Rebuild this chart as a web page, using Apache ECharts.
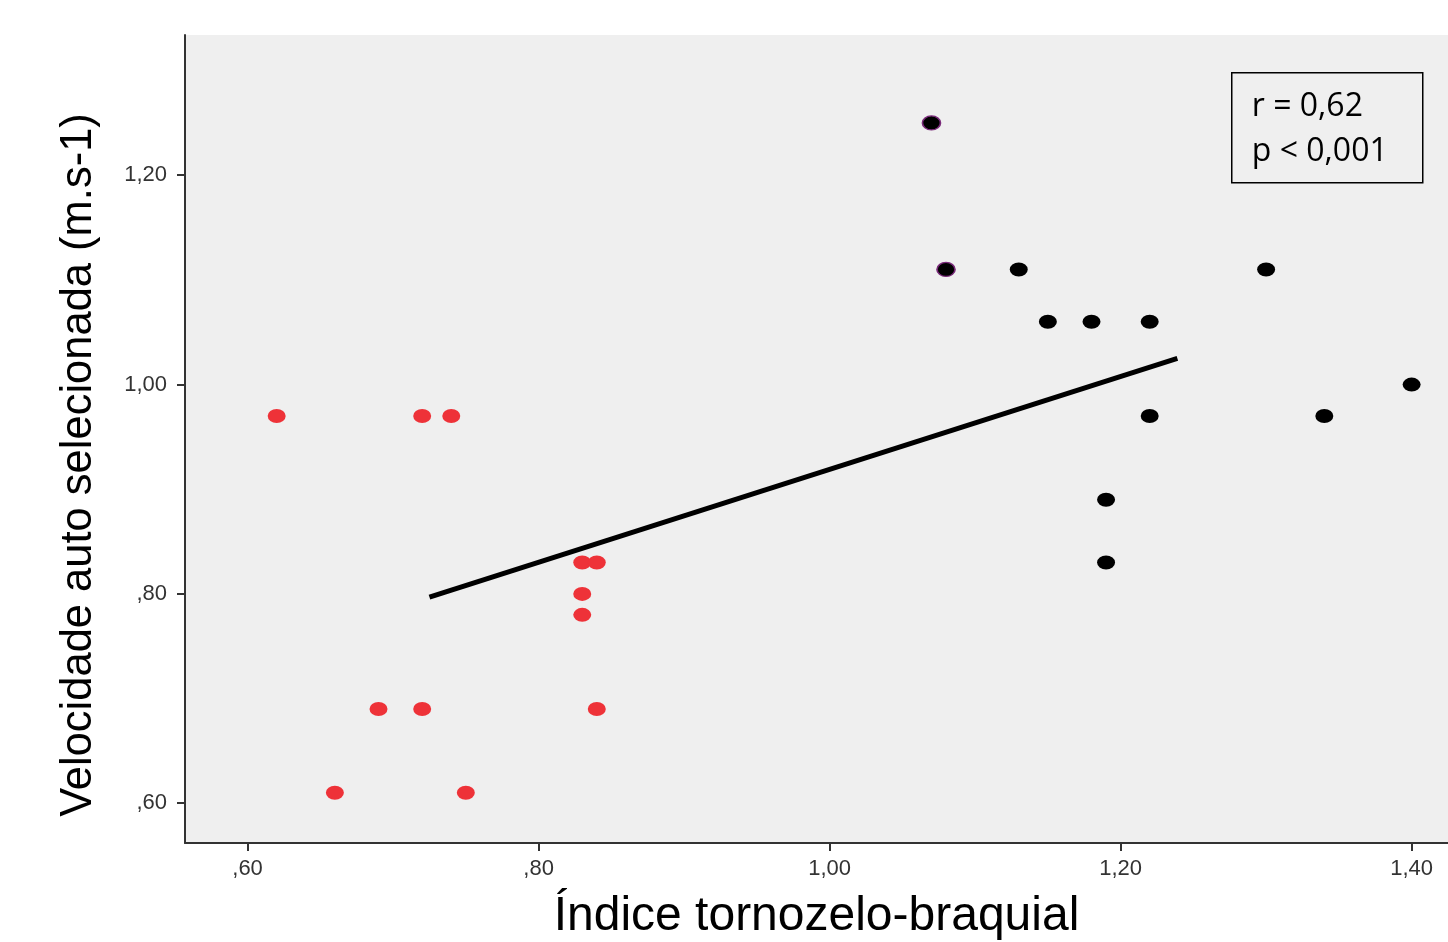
<!DOCTYPE html>
<html>
<head>
<meta charset="utf-8">
<script src="https://cdn.jsdelivr.net/npm/echarts@6/dist/echarts.min.js"></script>
<style>
  html, body { margin: 0; padding: 0; background: #fff; }
  #chart { width: 1448px; height: 942px; }
</style>
</head>
<body>
<div id="chart"></div>
<script>
// ITB x velocidade - grupo com DAP (vermelho) e sem DAP (preto)
var redX = [0.62, 0.72, 0.74, 0.83, 0.84, 0.83, 0.83, 0.69, 0.72, 0.84, 0.66, 0.75];
var redY = [0.97, 0.97, 0.97, 0.83, 0.83, 0.80, 0.78, 0.69, 0.69, 0.69, 0.61, 0.61];

var blackX = [1.07, 1.08, 1.13, 1.15, 1.18, 1.22, 1.30, 1.22, 1.34, 1.40, 1.19, 1.19];
var blackY = [1.25, 1.11, 1.11, 1.06, 1.06, 1.06, 1.11, 0.97, 0.97, 1.00, 0.89, 0.83];

// reta de regressao (inicio e fim)
var fitX = [0.725, 1.239];
var fitY = [0.797, 1.025];

var xTicks = [0.60, 0.80, 1.00, 1.20, 1.40];
var yTicks = [0.60, 0.80, 1.00, 1.20];

var statsText = ['r = 0,62', 'p < 0,001'];

function fmt(v) {
  return v.toFixed(2).replace('.', ',').replace(/^0/, '');
}
function pairs(xs, ys) {
  return xs.map(function (x, i) { return [x, ys[i]]; });
}

var blackData = pairs(blackX, blackY).map(function (p, i) {
  // os dois primeiros pontos tem contorno arroxeado
  if (i < 2) return { value: p, itemStyle: { borderColor: '#7a2a7a', borderWidth: 1.5 } };
  return p;
});

var option = {
  animation: false,
  grid: {
    left: 185, right: 0, top: 35, bottom: 99,
    outerBoundsMode: 'none', containLabel: false,
    show: true, backgroundColor: '#efefef', borderWidth: 0
  },
  xAxis: {
    type: 'value',
    min: 0.557, max: 1.425,
    name: 'Índice tornozelo-braquial',
    nameLocation: 'middle',
    nameGap: 50,
    nameTextStyle: { fontSize: 48, color: '#000', fontFamily: 'Liberation Sans' },
    splitLine: { show: false },
    axisLine: { show: true, lineStyle: { color: '#333', width: 2 } },
    axisTick: { show: true, customValues: xTicks, length: 8, lineStyle: { color: '#333', width: 2 } },
    axisLabel: {
      customValues: xTicks, formatter: fmt, margin: 15,
      fontSize: 22, color: '#333', fontFamily: 'Liberation Sans'
    }
  },
  yAxis: {
    type: 'value',
    min: 0.562, max: 1.334,
    name: 'Velocidade auto selecionada (m.s-1)',
    nameLocation: 'middle',
    nameGap: 84,
    nameTextStyle: { fontSize: 43.5, color: '#000', fontFamily: 'Liberation Sans', padding: [0, 52, 0, 0] },
    splitLine: { show: false },
    axisLine: { show: true, lineStyle: { color: '#333', width: 2 } },
    axisTick: { show: true, customValues: yTicks, length: 8, lineStyle: { color: '#333', width: 2 } },
    axisLabel: {
      customValues: yTicks, formatter: fmt, margin: 18,
      fontSize: 22, color: '#333', fontFamily: 'Liberation Sans'
    }
  },
  graphic: [{
    type: 'group',
    left: 1231, top: 72,
    children: [{
      type: 'rect',
      shape: { x: 0, y: 0, width: 191, height: 110 },
      style: { fill: '#efefef', stroke: '#000', lineWidth: 1.5 }
    }, {
      type: 'text',
      x: 20, y: 12,
      style: {
        text: statsText.join('\n'),
        font: '32px "Open Sans"',
        lineHeight: 45,
        fill: '#000'
      }
    }]
  }],
  series: [{
    type: 'scatter',
    symbol: 'circle',
    symbolSize: [18, 14],
    itemStyle: { color: '#ee3238', opacity: 1 },
    data: pairs(redX, redY),
    z: 3
  }, {
    type: 'scatter',
    symbol: 'circle',
    symbolSize: [18, 14],
    itemStyle: { color: '#000', opacity: 1 },
    data: blackData,
    z: 3
  }, {
    type: 'line',
    data: pairs(fitX, fitY),
    symbol: 'none',
    lineStyle: { color: '#000', width: 5 },
    z: 4
  }]
};

var chart = echarts.init(document.getElementById('chart'));
chart.setOption(option);
</script>
</body>
</html>
